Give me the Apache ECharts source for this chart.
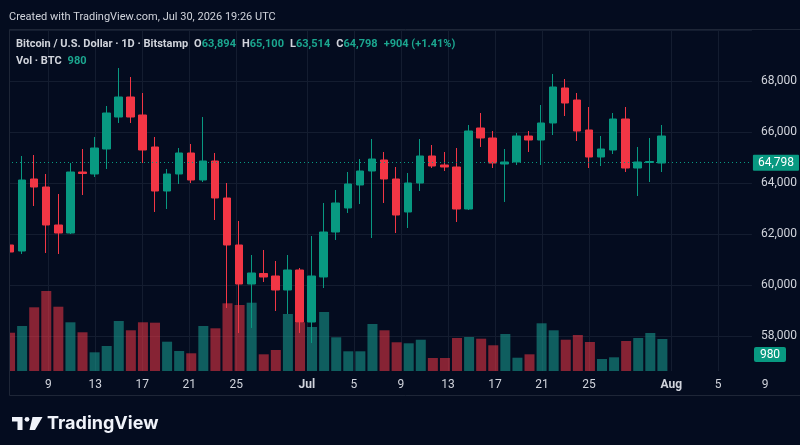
<!DOCTYPE html>
<html><head><meta charset="utf-8">
<script src="https://cdn.jsdelivr.net/npm/echarts@6/dist/echarts.min.js"></script>
<style>html,body{margin:0;padding:0;background:#040c1f;}#c{width:800px;height:445px;}</style>
</head><body><div id="c"></div>
<script>
// ---- data ----
const dates = ['06-06','06-07','06-08','06-09','06-10','06-11','06-12','06-13','06-14','06-15','06-16','06-17','06-18','06-19','06-20','06-21','06-22','06-23','06-24','06-25','06-26','06-27','06-28','06-29','06-30',
'07-01','07-02','07-03','07-04','07-05','07-06','07-07','07-08','07-09','07-10','07-11','07-12','07-13','07-14','07-15','07-16','07-17','07-18','07-19','07-20','07-21','07-22','07-23','07-24','07-25','07-26','07-27','07-28','07-29','07-30'];
const futureDates = ['07-31','08-01','08-02','08-03','08-04','08-05','08-06','08-07','08-08','08-09','08-10'];
const opens = [61569,61333,64157,63843,62353,62039,64431,64353,65333,66588,67373,66667,65412,63686,64353,65176,64118,64863,63412,61569,60039,60451,60353,59804,60588,58549,60314,62078,63020,63922,64471,64902,64157,62863,64000,65059,64706,64627,62980,66157,65765,64745,64824,65843,65686,66353,67726,67255,66078,65020,65294,66510,64588,64804,64784];
const closes = [61294,64118,63843,62353,62039,64431,64373,65373,66745,67373,66588,65294,63686,64353,65176,64118,64863,63412,61569,60039,60471,60314,59804,60588,58549,60353,62078,63216,63961,64471,64941,64157,62745,64000,65059,64667,64627,62980,66039,65765,64784,64824,65843,65686,66353,67765,67137,66039,65020,65333,66510,64588,64824,64843,65843];
const highs = [61608,65059,65098,64353,63569,64784,65333,65804,67020,68510,68157,67529,65804,64549,65373,65529,66588,65176,64000,62510,61176,61373,60941,61176,60667,61922,63216,63725,64431,64941,65725,65216,64627,64392,65725,65490,65216,65373,66275,66745,66039,65333,65961,66039,67059,68275,68078,67529,66980,65843,66745,66980,65412,65765,66275];
const lows = [61216,61216,63098,61255,61216,62000,63529,64235,64549,66353,66353,64784,62863,62980,63961,64000,64039,62549,59098,58118,58314,60118,58980,58863,58118,57725,59882,61765,62824,63176,61843,63216,62039,62235,63686,64588,64471,62471,62941,65412,64588,63255,64706,65216,64706,65882,66627,65647,64588,64667,65137,64431,63490,64039,64431];
const volumes = [1172,1378,1950,2449,1968,1491,1185,572,765,1531,1246,1491,1479,897,612,542,1378,1307,2072,2020,2091,511,643,1745,1491,1347,1806,1032,603,603,1439,1246,879,848,958,398,398,1010,1041,989,787,1133,407,511,1460,1246,958,1102,888,367,419,918,1010,1163,980];
const tickDates = ['06-09','06-13','06-17','06-21','06-25','07-01','07-05','07-09','07-13','07-17','07-21','07-25','08-01','08-05','08-09'];
const tickLabels = ['9','13','17','21','25','Jul','5','9','13','17','21','25','Aug','5','9'];
const priceTicks = [58000,60000,62000,64000,66000,68000];
const quoteOpen = '63,894', quoteHigh = '65,100', quoteLow = '63,514', quoteClose = '64,798', quoteChange = '+904 (+1.41%)';
const lastClose = 64798;
const lastVolume = 980;

// ---- style ----
const BG = '#040c1f';
const UP = '#089981', DOWN = '#f23645';
const TXT = '#d1d4dc';
const GRIDC = '#141d30';
const FONT = 'Roboto';
const HF = 11; // header font size

const axisDays = dates.concat(futureDates);
const mainDays = dates.concat(futureDates.slice(0, 7));

const candleData = opens.map((o, i) => [o, closes[i], lows[i], highs[i]]);
const volData = volumes.map((v, i) => ({
  value: v,
  itemStyle: { color: closes[i] >= opens[i] ? 'rgba(24,150,138,0.6)' : 'rgba(242,54,69,0.55)' }
}));

const chart = echarts.init(document.getElementById('c'));
chart.setOption({
  backgroundColor: BG,
  animation: false,
  textStyle: { fontFamily: FONT },
  title: [
    { left: 9, top: 12, padding: 0, text: 'Created with TradingView.com, Jul 30, 2026 19:26 UTC',
      textStyle: { color: TXT, fontSize: 11, fontWeight: 'normal', fontFamily: FONT } },
    { left: 16, top: 39, padding: 0,
      text: '{a|Bitcoin / U.S. Dollar · 1D · Bitstamp}{k|O}{v|' + quoteOpen + '}{k|H}{v|' + quoteHigh + '}{k|L}{v|' + quoteLow + '}{k|C}{v|' + quoteClose + '}{w|' + quoteChange + '}',
      textStyle: { fontSize: HF, rich: {
        a: { color: TXT, fontSize: HF, fontFamily: FONT },
        k: { color: TXT, fontSize: HF, fontFamily: FONT, padding: [0, 0, 0, 6] },
        v: { color: '#1ba68f', fontSize: HF, fontFamily: FONT },
        w: { color: '#1ba68f', fontSize: HF, fontFamily: FONT, padding: [0, 0, 0, 6] }
      } } },
    { left: 16, top: 56, padding: 0,
      text: '{a|Vol · BTC}{v|' + lastVolume + '}',
      textStyle: { fontSize: HF, rich: {
        a: { color: TXT, fontSize: HF, fontFamily: FONT },
        v: { color: '#1ba68f', fontSize: HF, fontFamily: FONT, padding: [0, 0, 0, 6] }
      } } }
  ],
  grid: [
    { left: 4, right: 47, top: 30, bottom: 109 },
    { left: 4, right: 47, top: 273, bottom: 74 },
    { left: 13, right: 23, top: 30, bottom: 74 }
  ],
  xAxis: [
    { gridIndex: 0, type: 'category', data: mainDays, show: false },
    { gridIndex: 1, type: 'category', data: mainDays, show: false },
    { gridIndex: 2, type: 'category', data: axisDays, boundaryGap: false,
      axisLine: { show: false }, axisTick: { show: false },
      axisLabel: {
        interval: (i, v) => tickDates.indexOf(v) >= 0,
        color: TXT, fontSize: 12, margin: 8, fontFamily: FONT,
        formatter: v => {
          const lab = tickLabels[tickDates.indexOf(v)] || '';
          return /[A-Za-z]/.test(lab) ? '{m|' + lab + '}' : lab;
        },
        rich: { m: { fontWeight: 'bold', color: TXT, fontSize: 12, fontFamily: FONT } }
      },
      splitLine: { show: true, interval: (i, v) => tickDates.indexOf(v) >= 0 && v !== '08-09',
        lineStyle: { color: GRIDC, width: 1 } }
    }
  ],
  yAxis: [
    { gridIndex: 0, type: 'value', position: 'right', min: priceTicks[0], max: 70000, interval: 2000,
      axisLine: { show: false }, axisTick: { show: false },
      axisLabel: { color: TXT, fontSize: 12, margin: 9, fontFamily: FONT, showMaxLabel: false,
        formatter: v => priceTicks.indexOf(v) >= 0 ? v.toLocaleString('en-US') : '' },
      splitLine: { lineStyle: { color: GRIDC, width: 1 } } },
    { gridIndex: 1, type: 'value', min: 0, max: 3000, show: false, splitLine: { show: false } },
    { gridIndex: 2, type: 'value', show: false, splitLine: { show: false } }
  ],
  series: [
    { type: 'bar', name: 'Volume', xAxisIndex: 1, yAxisIndex: 1, data: volData, barWidth: 10, z: 1 },
    { type: 'candlestick', name: 'BTCUSD', xAxisIndex: 0, yAxisIndex: 0, data: candleData, barWidth: 8, clip: false, z: 3,
      itemStyle: { color: UP, color0: DOWN, borderColor: UP, borderColor0: DOWN, borderWidth: 1 },
      markLine: {
        silent: true, symbol: ['none', 'none'], animation: false,
        data: [{ yAxis: lastClose }],
        lineStyle: { color: UP, type: [1, 3], width: 1 },
        label: { position: 'end', formatter: quoteClose, color: '#ffffff', backgroundColor: UP,
          padding: [2, 5, 2, 5], fontSize: 12, fontFamily: FONT, distance: 1, borderRadius: 1 }
      }
    }
  ],
  graphic: [
    { type: 'rect', left: 0, top: 29, shape: { width: 9, height: 368 }, style: { fill: BG }, z: 100 },
    { type: 'rect', shape: { x: 9.5, y: 29.5, width: 800, height: 366 }, style: { fill: 'none', stroke: '#1e2637', lineWidth: 1 }, z: 101 },
    { type: 'group', left: 754, top: 347, z: 102, children: [
      { type: 'rect', shape: { width: 32, height: 15, r: 2 }, style: { fill: UP } },
      { type: 'text', x: 16, y: 7.5, style: { text: String(lastVolume), fill: '#ffffff', font: '12px Roboto', align: 'center', verticalAlign: 'middle' } }
    ] },
    { type: 'polygon', z: 102, shape: { points: [[12, 417], [22.5, 417], [22.5, 430], [17.5, 430], [17.5, 421.5], [12, 421.5]] }, style: { fill: '#f0f3fa' } },
    { type: 'circle', z: 102, shape: { cx: 27, cy: 419.3, r: 2.4 }, style: { fill: '#f0f3fa' } },
    { type: 'polygon', z: 102, shape: { points: [[32.5, 417], [42.5, 417], [35, 430], [29.5, 430]] }, style: { fill: '#f0f3fa' } },
    { type: 'text', z: 102, x: 47, y: 423.5, style: { text: 'TradingView', fill: '#f0f3fa', font: 'bold 18px Inter', verticalAlign: 'middle' } }
  ]
});
</script></body></html>
